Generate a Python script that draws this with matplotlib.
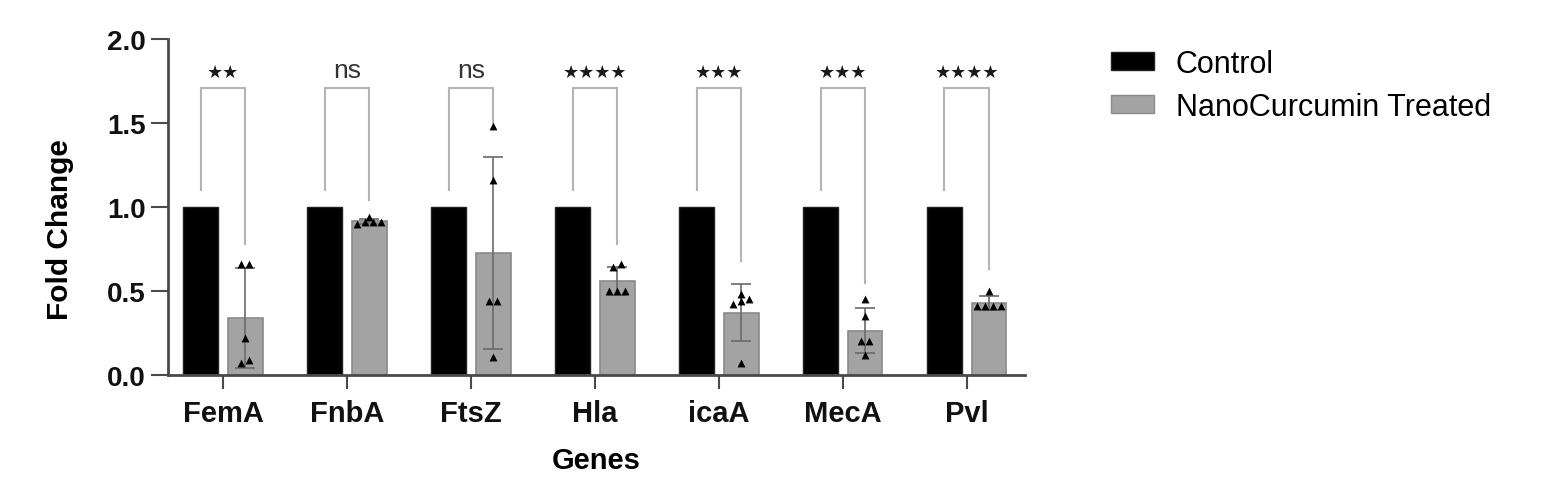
import numpy as np
import matplotlib
matplotlib.use("Agg")
import matplotlib.pyplot as plt
from matplotlib.patches import Patch

plt.rcParams['font.family'] = ['Liberation Sans', 'DejaVu Sans']

genes = ["FemA", "FnbA", "FtsZ", "Hla", "icaA", "MecA", "Pvl"]
control_mean = [1.0, 1.0, 1.0, 1.0, 1.0, 1.0, 1.0]
treated_points = [
    [0.66, 0.66, 0.22, 0.07, 0.09],   # FemA
    [0.94, 0.91, 0.91, 0.91, 0.90],   # FnbA
    [1.48, 1.16, 0.44, 0.44, 0.11],   # FtsZ
    [0.66, 0.64, 0.50, 0.50, 0.50],   # Hla
    [0.48, 0.45, 0.44, 0.42, 0.07],   # icaA
    [0.45, 0.35, 0.20, 0.20, 0.12],   # MecA
    [0.50, 0.41, 0.41, 0.41, 0.41],   # Pvl
]
significance = ["**", "ns", "ns", "****", "***", "***", "****"]
bracket_right_leg = [0.78, 1.04, 1.50, 0.78, 0.68, 0.55, 0.63]
yticks = [0.0, 0.5, 1.0, 1.5, 2.0]

fig = plt.figure(figsize=(15.64, 5.02), dpi=100)
ax = fig.add_axes([168/1564, 1 - 376/502, (1025 - 168)/1564, (376 - 40)/502])

x = np.arange(len(genes))
w = 0.28
off = 0.18
ctrl_x = x - off
trt_x = x + off

treated_mean = [np.mean(p) for p in treated_points]
treated_sd = [np.std(p, ddof=1) for p in treated_points]

trt_color = "#a3a3a3"
ax.bar(ctrl_x, control_mean, width=w, color="black", edgecolor="#222222", linewidth=1, zorder=2)
ax.bar(trt_x, treated_mean, width=w, color=trt_color, edgecolor="#8a8a8a", linewidth=1.2, zorder=2)
ax.errorbar(trt_x, treated_mean, yerr=treated_sd, fmt="none", ecolor="#6a6a6a",
            elinewidth=1.2, capsize=7, capthick=1.2, zorder=3)


def swarm_offsets(vals, tol=0.025, step=0.065):
    vals = np.asarray(vals)
    order = np.argsort(vals)
    offs = np.zeros(len(vals))
    groups = []
    cur = [order[0]]
    for i in order[1:]:
        if vals[i] - vals[cur[-1]] < tol:
            cur.append(i)
        else:
            groups.append(cur)
            cur = [i]
    groups.append(cur)
    for g in groups:
        n = len(g)
        for k, idx in enumerate(g):
            offs[idx] = (k - (n - 1) / 2) * step
    return offs


for xi, pts in zip(trt_x, treated_points):
    o = swarm_offsets(pts)
    ax.scatter(xi + o, pts, marker="^", s=32, color="black", zorder=4, linewidths=0)

# significance brackets
bcol = "#b4b4b4"
for i in range(len(genes)):
    x0, x1 = ctrl_x[i], trt_x[i]
    top = 1.71
    ax.plot([x0, x0, x1, x1], [control_mean[i] + 0.10, top, top, bracket_right_leg[i]],
            color=bcol, lw=1.5, zorder=1, solid_joinstyle="miter")
    s = significance[i]
    if s == "ns":
        ax.text((x0 + x1) / 2, 1.745, s, ha="center", va="bottom", fontsize=19, color="#333333")
    else:
        ax.text((x0 + x1) / 2, 1.75, "\u2605" * len(s), ha="center", va="bottom",
                fontsize=13, color="#1a1a1a", family=["DejaVu Sans"])

ax.set_xlim(-0.445, 6.47)
ax.set_ylim(0, 2.0)
ax.set_yticks(yticks)
ax.set_yticklabels([f"{t:.1f}" for t in yticks], fontsize=20, fontweight="bold")
ax.set_xticks(x)
ax.set_xticklabels(genes, fontsize=21, fontweight="bold")
for sp in ["top", "right"]:
    ax.spines[sp].set_visible(False)
for sp in ["left", "bottom"]:
    ax.spines[sp].set_color("#4a4a4a")
    ax.spines[sp].set_linewidth(2)
ax.tick_params(axis="both", width=1.5, color="#4a4a4a", labelcolor="#111111")
ax.tick_params(axis="x", length=10, pad=7)
ax.tick_params(axis="y", length=12, pad=4)

ax.set_xlabel("Genes", fontsize=21, fontweight="bold", labelpad=14)
ax.set_ylabel("Fold Change", fontsize=21.5, fontweight="bold")
ax.yaxis.set_label_coords(-0.110, 0.435)

handles = [Patch(facecolor="black", edgecolor="#222222"),
           Patch(facecolor=trt_color, edgecolor="#8a8a8a")]
fig.legend(handles, ["Control", "NanoCurcumin Treated"], loc="upper left",
           bbox_to_anchor=(1111/1564, 1 - 50/502), frameon=False, fontsize=22,
           handlelength=1.4, handleheight=0.55, handletextpad=0.72,
           labelspacing=0.42, borderpad=0, borderaxespad=0)

fig.savefig("out.png", dpi=100)
